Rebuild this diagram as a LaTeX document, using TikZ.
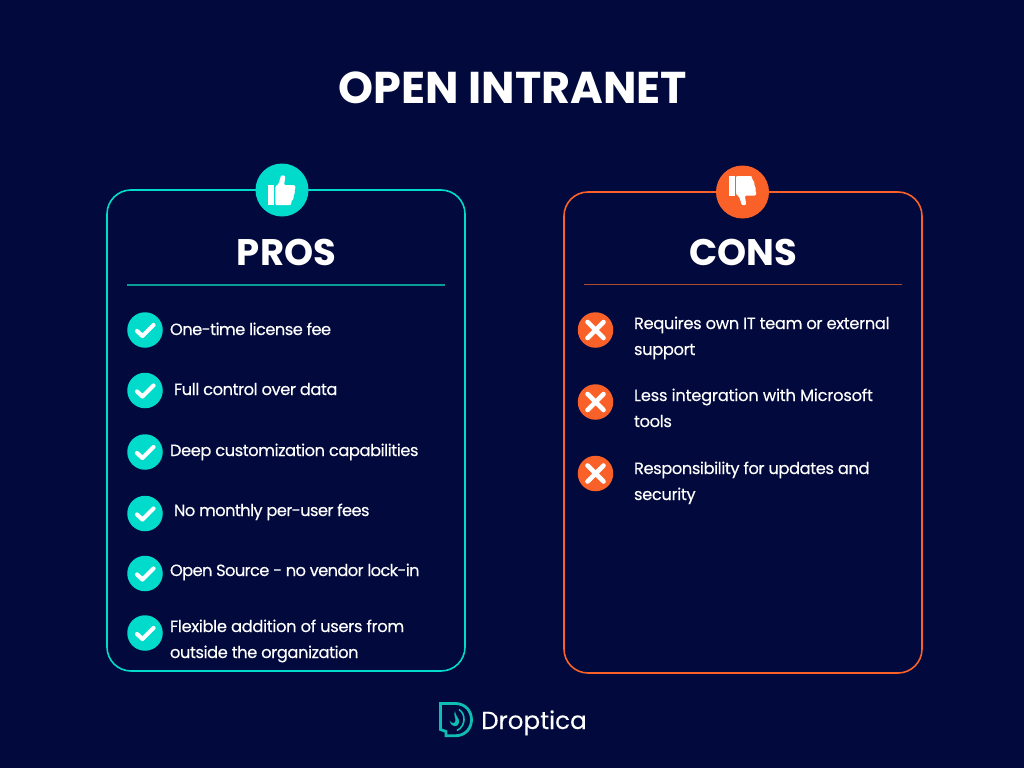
\documentclass[tikz,border=0pt]{standalone}
\usepackage{fontspec}
\setmainfont{Poppins}
\newfontfamily\itemfont[LetterSpace=-2.2,FakeBold=0.2]{Poppins}
\newfontfamily\brandfont[FakeBold=0.15]{Poppins}
\newcommand{\trk}[1]{\addfontfeature{LetterSpace=#1}}
\definecolor{bgc}{HTML}{020A3D}
\definecolor{tealc}{HTML}{00DBCB}
\definecolor{orng}{HTML}{F96129}
\definecolor{sepcyan}{HTML}{0A9A98}
\definecolor{orngdim}{HTML}{B04A2C}
\definecolor{logoc}{HTML}{0FBDB2}
\tikzset{
 panel/.style={draw=#1,line width=1.6pt,rounded corners=24pt,fill=none},
 bubble/.style={circle,fill=#1,minimum size=35.5pt,inner sep=0pt,outer sep=0pt},
 bigbubble/.style={circle,fill=#1,minimum size=53pt,inner sep=0pt,outer sep=0pt},
 item/.style={anchor=base west,text=white,font=\fontsize{16.3}{20}\itemfont,inner sep=0pt,outer sep=0pt},
 head/.style={anchor=base,text=white,font=\fontsize{37}{42}\selectfont\bfseries,inner sep=0pt},
 tick/.style={draw=white,line width=4.2pt,line cap=round,line join=round},
 cross/.style={draw=white,line width=4.6pt,line cap=round},
}
\newcommand{\tickmark}[1]{\draw[tick] ([shift={(-8,1)}]#1.center) -- ([shift={(-2.5,6)}]#1.center) -- ([shift={(8.5,-5)}]#1.center);}
\newcommand{\crossmark}[1]{\draw[cross] ([shift={(-8,-8)}]#1.center) -- ([shift={(8,8)}]#1.center) ([shift={(-8,8)}]#1.center) -- ([shift={(8,-8)}]#1.center);}
\begin{document}
\begin{tikzpicture}[x=1pt,y=-1pt]
\useasboundingbox (0,0) rectangle (1024,768);
\fill[bgc] (0,0) rectangle (1024,768);
\node[anchor=base,text=white,font=\fontsize{44.5}{50}\selectfont\bfseries,inner sep=0pt] (title) at (513,103) {OPEN INTRANET};
% panels
\draw[panel=tealc] (107,190) rectangle (465,671);
\draw[panel=orng] (564,192) rectangle (922,673);
\node[bigbubble=tealc] (up) at (282,190) {};
\node[bigbubble=orng] (down) at (742.5,192) {};
% thumb up
\begin{scope}[shift={(up.center)}]
\fill[white] (-14.3,-5) rectangle (-8,15);
\fill[white,rounded corners=1pt] (-6.7,-3.5) -- (-3.5,-6) -- (-1.5,-12.5) .. controls (-1,-15) and (3.2,-15) .. (3.2,-12) -- (2,-5) -- (12.5,-5) -- (13.7,-2.5) -- (12.5,0) -- (13,3) -- (11.5,5.5) -- (11.5,9) -- (9.5,11) -- (9,15) -- (-6.7,15) -- cycle;
\end{scope}
% thumb down
\begin{scope}[shift={(down.center)}]
\fill[white] (-14,-16) rectangle (-7.5,3.7);
\fill[white,rounded corners=1pt] (-6.5,2.2) -- (-3.5,4.7) -- (-1.2,11) .. controls (-0.7,13.7) and (3.5,13.7) .. (3.5,10.7) -- (2.3,3.7) -- (12.8,3.7) -- (14,1.2) -- (12.8,-1.3) -- (13.3,-4.3) -- (11.8,-6.8) -- (11.8,-10.3) -- (9.8,-12.3) -- (9.3,-16) -- (-6.5,-16) -- cycle;
\end{scope}
\node[head] (pros) at (286.5,265) {PROS};
\node[head] (cons) at (743,265) {CONS};
\coordinate (pa) at (127,285); \coordinate (pb) at (445,285);
\coordinate (ca) at (584,284.5); \coordinate (cb) at (902,284.5);
\draw[draw=sepcyan,line width=1.6pt] (pa) -- (pb);
\draw[draw=orngdim,line width=1.6pt] (ca) -- (cb);
% pros
\node[bubble=tealc] (c1) at (145,330) {}; \tickmark{c1}
\node[bubble=tealc] (c2) at (145,390.5) {}; \tickmark{c2}
\node[bubble=tealc] (c3) at (145,452) {}; \tickmark{c3}
\node[bubble=tealc] (c4) at (145,513.5) {}; \tickmark{c4}
\node[bubble=tealc] (c5) at (145,573.5) {}; \tickmark{c5}
\node[bubble=tealc] (c6) at (145,633) {}; \tickmark{c6}
\node[item] (p1) at (170,335) {\trk{-3.4}One-time license fee};
\node[item] (p2) at (174,395) {\trk{-2.8}Full control over data};
\node[item] (p3) at (170,456) {\trk{-2.8}Deep customization capabilities};
\node[item] (p4) at (174,516) {\trk{-3.7}No monthly per-user fees};
\node[item] (p5) at (170,576) {\trk{-4}Open Source - no vendor lock-in};
\node[item] (p6) at (170,632) {\trk{-2}Flexible addition of users from};
\node[item] (p6b) at (170,658) {\trk{-2.7}outside the organization};
% cons
\node[bubble=orng] (x1) at (595.5,330) {}; \crossmark{x1}
\node[bubble=orng] (x2) at (595.5,402) {}; \crossmark{x2}
\node[bubble=orng] (x3) at (595.5,473.5) {}; \crossmark{x3}
\node[item] (n1) at (634,329) {Requires own IT team or external};
\node[item] (n1b) at (634,355) {support};
\node[item] (n2) at (634,401) {\trk{-1.4}Less integration with Microsoft};
\node[item] (n2b) at (634,427) {tools};
\node[item] (n3) at (634,474) {\trk{-2.6}Responsibility for updates and};
\node[item] (n3b) at (634,500) {security};
% logo
\draw[logoc,line width=2.8pt,line join=miter] (457,703.5) -- (440.5,703.5) -- (440.5,729.5) -- (446,731.5) -- (446,735.8) -- (455,735.8) .. controls (477,735.8) and (477,703.5) .. (455,703.5);
\fill[logoc] (455,711) .. controls (455,716) and (460,718) .. (459,723) .. controls (458,728) and (450,727) .. (449.5,720.5) .. controls (451,723.5) and (455,724) .. (455.5,721) .. controls (456,718) and (453,715) .. (455,711) -- cycle;
\draw[logoc,line width=1.6pt] (459,709.5) .. controls (466,714) and (466,726) .. (457,730.5);
\node[anchor=base west,text=white,font=\fontsize{24.6}{28}\brandfont,inner sep=0pt] (brand) at (481,729) {Droptica};
\end{tikzpicture}
\end{document}
